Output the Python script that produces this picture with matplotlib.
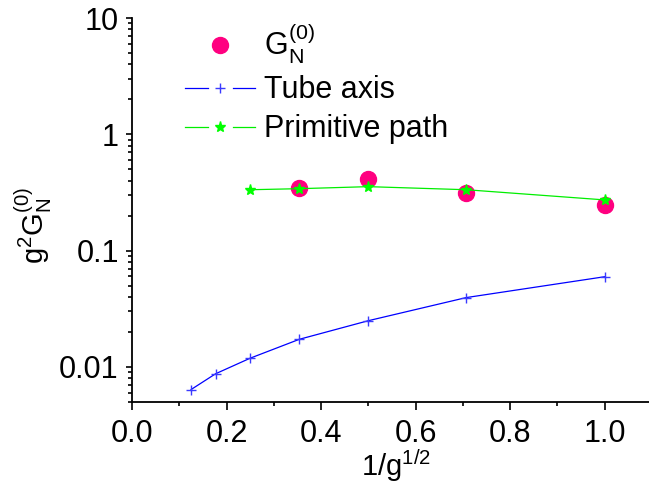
import numpy as np
import matplotlib.pyplot as plt
from matplotlib.lines import Line2D
from matplotlib.legend_handler import HandlerLine2D
from matplotlib.ticker import LogLocator, FixedLocator, MultipleLocator, FuncFormatter

plt.rcParams['font.family'] = ['Liberation Sans', 'DejaVu Sans']
plt.rcParams['mathtext.fontset'] = 'custom'
plt.rcParams['mathtext.rm'] = 'Liberation Sans'
plt.rcParams['mathtext.it'] = 'Liberation Sans'

# datos
x_tubo = [0.125, 0.177, 0.25, 0.354, 0.5, 0.707, 1.0]
y_tubo = [0.0064, 0.00875, 0.0119, 0.0173, 0.025, 0.0395, 0.0597]

x_pp = [0.25, 0.354, 0.5, 0.707, 1.0]
y_pp = [0.334, 0.341, 0.355, 0.334, 0.273]

x_gn = [0.354, 0.5, 0.707, 1.0]
y_gn = [0.345, 0.414, 0.313, 0.247]


class HandlerHueco(HandlerLine2D):
    # linea - marcador - linea, con hueco alrededor del marcador (estilo Origin)
    def create_artists(self, legend, orig, xdescent, ydescent, width, height, fontsize, trans):
        y = height/2 - ydescent
        x0 = -xdescent
        x1 = x0 + width
        xm = (x0 + x1)/2
        hueco = 0.18*width
        arts = []
        for a, b in [(x0, xm - hueco), (xm + hueco, x1)]:
            l = Line2D([a, b], [y, y], color=orig.get_color(), lw=orig.get_linewidth())
            l.set_transform(trans)
            arts.append(l)
        m = Line2D([xm], [y], ls='none', marker=orig.get_marker(), ms=orig.get_markersize(),
                   mec=orig.get_markeredgecolor(), mfc=orig.get_markerfacecolor(),
                   mew=orig.get_markeredgewidth())
        m.set_transform(trans)
        arts.append(m)
        return arts


fig = plt.figure(figsize=(6.49, 4.87), dpi=100)
ax = fig.add_axes([132/649, 85/487, 520/649, 384/487])

ax.plot(x_gn, y_gn, 'o', color='#ff0080', ms=11.5, ls='none',
        label=r'G$_\mathregular{N}^\mathregular{(0)}$')
l_tubo, = ax.plot(x_tubo, y_tubo, '-', color='#0000ff', lw=0.9, marker='+', ms=7,
                  mew=1.0, mec='#3a3aff', label='Tube axis')
l_pp, = ax.plot(x_pp, y_pp, '-', color='#00ee00', lw=0.9, marker='*', ms=8,
                mec='#00ff00', mfc='#00ff00', label='Primitive path')

ax.set_yscale('log')
ax.set_xlim(0, 1.1)
ax.set_ylim(0.005, 10)
ax.xaxis.set_major_locator(FixedLocator([0.0, 0.2, 0.4, 0.6, 0.8, 1.0]))
ax.xaxis.set_minor_locator(MultipleLocator(0.1))
ax.xaxis.set_major_formatter(FuncFormatter(lambda v, p: '{:.1f}'.format(v)))
ax.yaxis.set_major_locator(FixedLocator([0.01, 0.1, 1, 10]))
ax.yaxis.set_minor_locator(LogLocator(base=10, subs=np.arange(2, 10)))
ax.yaxis.set_major_formatter(FuncFormatter(lambda v, p: '{:g}'.format(v)))

for s in ['top', 'right']:
    ax.spines[s].set_visible(False)
for s in ['left', 'bottom']:
    ax.spines[s].set_linewidth(1.3)
ax.tick_params(which='both', direction='out', width=1.2, labelsize=22)
ax.tick_params(axis='x', which='major', length=6, pad=6)
ax.tick_params(axis='x', which='minor', length=3)
ax.tick_params(axis='y', which='major', length=4.5, pad=5)
ax.tick_params(axis='y', which='minor', length=3)

ax.set_xlabel(r'1/g$^\mathregular{1/2}$', fontsize=21)
ax.xaxis.set_label_coords(0.508, -0.117)
ax.set_ylabel(r'g$^\mathregular{2}$G$_\mathregular{N}^\mathregular{(0)}$', fontsize=21)
ax.yaxis.set_label_coords(-0.15, 0.46)

ax.legend(loc='upper left', bbox_to_anchor=(0.102, 0.99), frameon=False, fontsize=22,
          handlelength=2.3, numpoints=1, labelspacing=0.3, handletextpad=0.3,
          borderpad=0, borderaxespad=0,
          handler_map={l_tubo: HandlerHueco(), l_pp: HandlerHueco()})

plt.savefig('out.png', dpi=100)
